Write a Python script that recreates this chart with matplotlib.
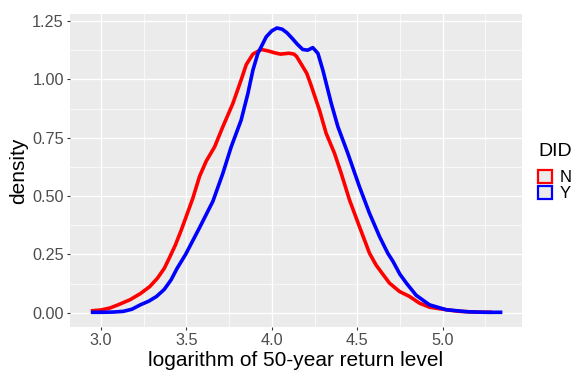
import matplotlib
matplotlib.use("Agg")
import matplotlib.pyplot as plt
from matplotlib.patches import Patch

plt.rcParams['font.family'] = ['Liberation Sans', 'DejaVu Sans']

# density curves
x_N = [2.94, 3.00, 3.05, 3.10, 3.17, 3.23, 3.285, 3.33, 3.37, 3.40, 3.435, 3.47, 3.537,
       3.577, 3.616, 3.665, 3.713, 3.772, 3.82, 3.85, 3.889, 3.938, 3.977, 4.01, 4.05,
       4.10, 4.13, 4.145, 4.175, 4.205, 4.231, 4.279, 4.318, 4.367, 4.406, 4.455, 4.513,
       4.572, 4.61, 4.65, 4.689, 4.748, 4.806, 4.865, 4.923, 5.021, 5.099, 5.2, 5.29]
y_N = [0.008, 0.012, 0.020, 0.034, 0.056, 0.082, 0.112, 0.148, 0.19, 0.235, 0.29, 0.355, 0.49,
       0.585, 0.65, 0.711, 0.797, 0.897, 0.997, 1.063, 1.108, 1.128, 1.122, 1.115, 1.108,
       1.112, 1.108, 1.098, 1.062, 1.025, 0.972, 0.868, 0.769, 0.683, 0.598, 0.483, 0.369,
       0.255, 0.205, 0.165, 0.127, 0.091, 0.070, 0.041, 0.024, 0.013, 0.006, 0.003, 0.002]

x_Y = [2.94, 3.00, 3.07, 3.13, 3.18, 3.23, 3.28, 3.325, 3.37, 3.41, 3.445, 3.495, 3.577,
       3.655, 3.713, 3.762, 3.82, 3.86, 3.889, 3.918, 3.945, 3.967, 4.00, 4.03, 4.06, 4.088,
       4.12, 4.15, 4.181, 4.21, 4.24, 4.27, 4.299, 4.348, 4.387, 4.445, 4.513, 4.572, 4.631,
       4.679, 4.708, 4.75, 4.79, 4.845, 4.923, 5.021, 5.15, 5.25, 5.35]
y_Y = [0.002, 0.002, 0.003, 0.006, 0.015, 0.034, 0.050, 0.070, 0.100, 0.141, 0.19, 0.25, 0.365,
       0.478, 0.597, 0.711, 0.825, 0.94, 1.039, 1.111, 1.15, 1.182, 1.208, 1.22, 1.215, 1.20,
       1.175, 1.15, 1.128, 1.125, 1.136, 1.111, 1.039, 0.897, 0.797, 0.683, 0.540, 0.426, 0.326,
       0.255, 0.222, 0.165, 0.125, 0.075, 0.034, 0.013, 0.004, 0.002, 0.002]

xticks = [3.0, 3.5, 4.0, 4.5, 5.0]
xlabels = ["3.0", "3.5", "4.0", "4.5", "5.0"]
yticks = [0.0, 0.25, 0.5, 0.75, 1.0, 1.25]
ylabels = ["0.00", "0.25", "0.50", "0.75", "1.00", "1.25"]

fig = plt.figure(figsize=(5.75, 3.7), dpi=100)
ax = fig.add_axes([70/575, 43/370, 452/575, 313/370])
ax.set_facecolor("#EBEBEB")
for s in ax.spines.values():
    s.set_visible(False)

ax.set_xticks(xticks)
ax.set_xticklabels(xlabels)
ax.set_yticks(yticks)
ax.set_yticklabels(ylabels)
ax.set_xticks([3.25, 3.75, 4.25, 4.75, 5.25], minor=True)
ax.set_yticks([0.125, 0.375, 0.625, 0.875, 1.125], minor=True)
ax.grid(which="major", color="white", linewidth=1.0)
ax.grid(which="minor", color="white", linewidth=0.5)
ax.set_axisbelow(True)
ax.tick_params(which="major", length=2.5, width=0.8, color="#333333",
               labelcolor="#4D4D4D", labelsize=11.7, pad=2)
ax.tick_params(which="minor", length=0)

ax.plot(x_N, y_N, color="#FF0000", linewidth=2.6, solid_joinstyle="round", solid_capstyle="butt")
ax.plot(x_Y, y_Y, color="#0000FF", linewidth=2.6, solid_joinstyle="round", solid_capstyle="butt")

ax.set_xlim(2.818, 5.465)
ax.set_ylim(-0.061, 1.280)
ax.set_xlabel("logarithm of 50-year return level", fontsize=15, labelpad=2)
ax.set_ylabel("density", fontsize=15, labelpad=3)

# legend: title as separate text so the gap matches ggplot
fig.text(538/575, 1 - 152/370, "DID", fontsize=14, ha="left", va="center")
handles = [Patch(facecolor="#EBEBEB", edgecolor="#FF0000", linewidth=1.6, label="N"),
           Patch(facecolor="#EBEBEB", edgecolor="#0000FF", linewidth=1.6, label="Y")]
leg = fig.legend(handles=handles, loc="upper left",
                 bbox_to_anchor=(538/575, 1 - 170/370), frameon=False,
                 fontsize=12, borderpad=0, borderaxespad=0,
                 handlelength=0.85, handleheight=0.8, handletextpad=0.45,
                 labelspacing=0.05)

fig.savefig("out.png", dpi=100)
